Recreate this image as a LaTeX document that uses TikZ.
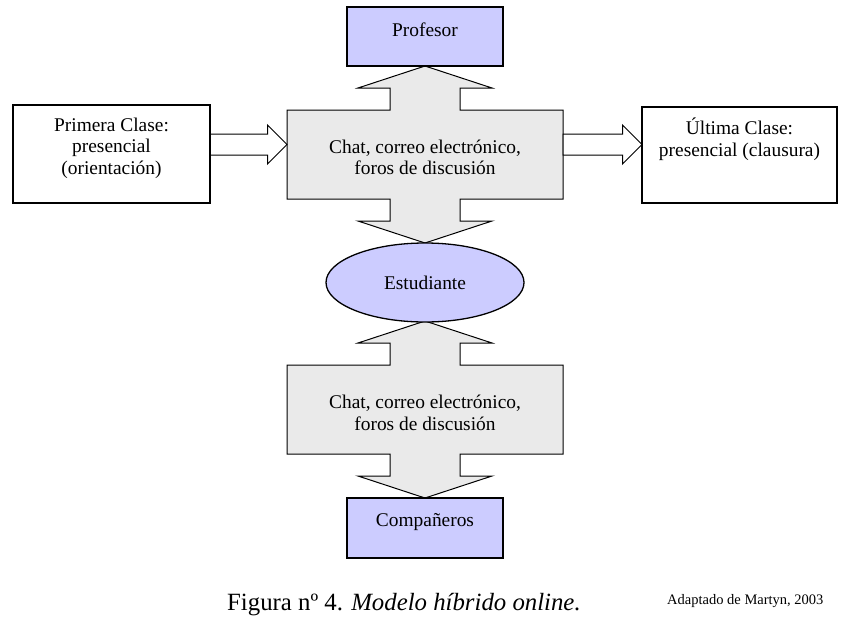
\documentclass[tikz,border=0pt]{standalone}
\usepackage{fontspec}
\setmainfont{Liberation Serif}
\usepackage{tikz}
\usepackage{xcolor}
\usetikzlibrary{shapes.geometric, calc, backgrounds}
\definecolor{cLila}{RGB}{204,204,255}
\definecolor{cGris}{RGB}{234,234,234}
\tikzset{
	caja/.style  ={rectangle, draw=black, line width=1.8pt, inner sep=0pt, outer sep=0pt},
	medio/.style ={rectangle, inner sep=0pt, outer sep=0pt, minimum width=276pt, minimum height=89pt},
	etiq/.style  ={align=center, inner sep=0pt, font=\fontsize{19.4}{21.5}\selectfont},
	% block arrows
	flecha/.style={draw=black, line width=1pt, fill=white},
	doble/.style ={draw=black, line width=1pt, fill=cGris},
}
\newcommand{\dobleflecha}[1]{%
	\draw[doble] (#1.north west) -- ($(#1.north)+(-35,0)$) -- ++(0,-22) -- ++(-32,0) -- ++(67,-22) -- ++(67,22) -- ++(-32,0) -- ++(0,22)
		-- (#1.north east) -- (#1.south east) -- ($(#1.south)+(35,0)$) -- ++(0,22) -- ++(32,0) -- ++(-67,22) -- ++(-67,-22) -- ++(32,0) -- ++(0,-22)
		-- (#1.south west) -- cycle;}
\newcommand{\flechabloque}[2]{%
	\draw[flecha] ($(#1)+(0,-10.5)$) -- ($(#2)+(-19.5,-10.5)$) -- ($(#2)+(-19.5,-19.5)$) -- (#2)
		-- ($(#2)+(-19.5,19.5)$) -- ($(#2)+(-19.5,10.5)$) -- ($(#1)+(0,10.5)$) -- cycle;}
\begin{document}
\begin{tikzpicture}[x=1pt, y=-1pt]
	\useasboundingbox (0,0) rectangle (857,627);
	\node[caja, fill=cLila, minimum width=156pt, minimum height=59pt] (prof) at (425,36.5) {};
	\node[medio] (chat1) at (425,154.5) {};
	\node[caja, fill=white, minimum width=197pt, minimum height=98pt] (prim) at (111.5,154) {};
	\node[caja, fill=white, minimum width=195pt, minimum height=96pt] (ult) at (739.5,155) {};
	\node[ellipse, draw=black, line width=1.3pt, fill=cLila, minimum width=198pt, minimum height=79pt, inner sep=0pt] (est) at (425,282.5) {};
	\node[medio] (chat2) at (425,409.5) {};
	\node[caja, fill=cLila, minimum width=156pt, minimum height=60pt] (comp) at (425,528) {};
	\coordinate (a1) at ($(prim.east)+(0,-9.5)$);
	\coordinate (b1) at ($(chat1.west)+(0,-10)$);
	\coordinate (a2) at ($(chat1.east)+(0,-10)$);
	\coordinate (b2) at ($(ult.west)+(0,-10.5)$);
	\begin{scope}[on background layer]
		\dobleflecha{chat1}
		\dobleflecha{chat2}
		\flechabloque{a1}{b1}
		\flechabloque{a2}{b2}
	\end{scope}
	\node[etiq] (proft) at ($(prof.center)+(0,-7)$) {Profesor};
	\node[etiq] (chat1t) at ($(chat1.center)+(0,3)$) {Chat, correo electrónico,\\foros de discusión};
	\node[etiq] (primt) at ($(prim.center)+(0,-6)$) {Primera Clase:\\presencial\\(orientación)};
	\node[etiq] (ultt) at ($(ult.center)+(0,-16)$) {Última Clase:\\presencial (clausura)};
	\node[etiq] (estt) at (est.center) {Estudiante};
	\node[etiq] (chat2t) at ($(chat2.center)+(0,3.5)$) {Chat, correo electrónico,\\foros de discusión};
	\node[etiq] (compt) at ($(comp.center)+(0,-6)$) {Compañeros};
	\node[anchor=west, inner sep=0pt, font=\fontsize{24.8}{28}\selectfont] (pie) at (227,605) {Figura nº 4. \textit{Modelo híbrido online.}};
	\node[anchor=west, inner sep=0pt, font=\fontsize{14.5}{16}\selectfont] (fuente) at (667,601) {Adaptado de Martyn, 2003};
\end{tikzpicture}
\end{document}
